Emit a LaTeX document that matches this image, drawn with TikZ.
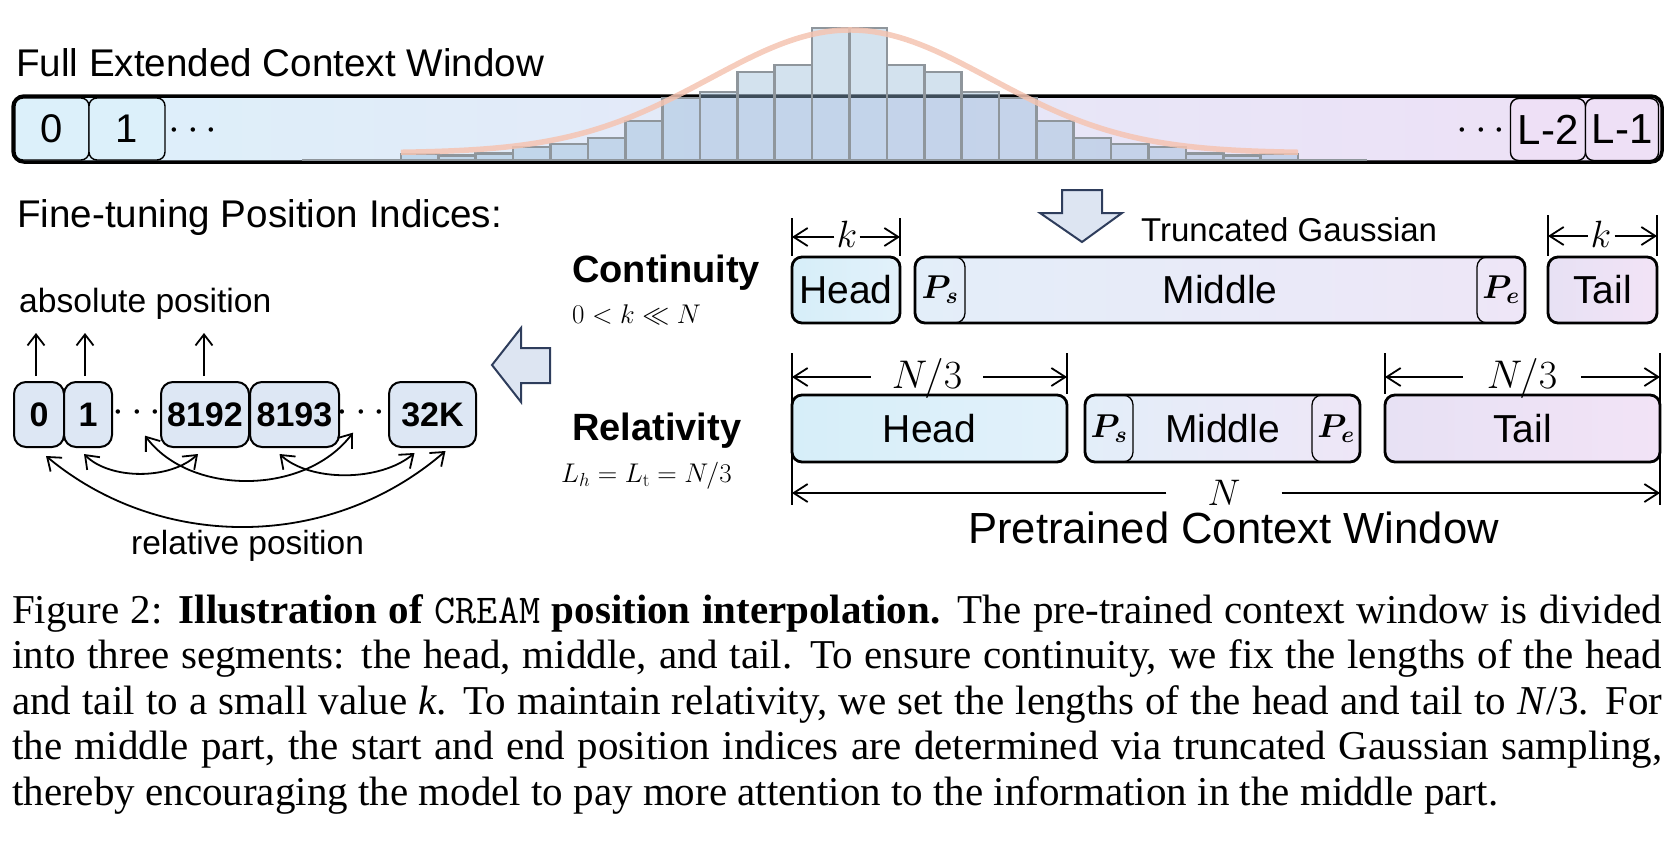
\RequirePackage{fix-cm}
\documentclass[tikz,border=0pt]{standalone}
\usepackage[no-math]{fontspec}
\setmainfont{Liberation Sans}
\newfontfamily\capfont{Liberation Serif}
\usepackage{bm}
\usetikzlibrary{arrows.meta,calc}
\newcommand\setfs[1]{\fontsize{#1}{#1}\selectfont}
\definecolor{barL}{HTML}{DCF0FA}
\definecolor{barM}{HTML}{E3E6F6}
\definecolor{barR}{HTML}{EEE0F6}
\definecolor{histfill}{RGB}{150,185,215}
\definecolor{histline}{HTML}{8F969C}
\definecolor{gcol}{RGB}{245,196,178}
\definecolor{iboxc}{HTML}{DDE7F4}
\definecolor{arrfill}{HTML}{DDE5F2}
\definecolor{arrline}{HTML}{2E3D5C}
\definecolor{headL}{HTML}{D6EEF9}
\definecolor{headR}{HTML}{E2F1FA}
\definecolor{midL}{HTML}{E3EEF9}
\definecolor{midR}{HTML}{EEE6F7}
\definecolor{tailL}{HTML}{E7E1F4}
\definecolor{tailR}{HTML}{F2E3F6}
\begin{document}
\begin{tikzpicture}[x=1pt,y=-1pt,
  lbl/.style={inner sep=0pt, anchor=base west},
  dots/.style={inner sep=0pt, anchor=base, font=\setfs{42}},
  fullbar/.style={draw, line width=3.5pt, rounded corners=11pt, inner sep=0pt,
    minimum width=1649pt, minimum height=66pt, left color=barL, middle color=barM, right color=barR},
  cellbox/.style={draw, line width=1.4pt, rounded corners=8pt, inner sep=0pt,
    minimum height=62pt, font=\setfs{40}},
  histbar/.style={fill=histfill, fill opacity=0.42, draw=histline, line width=2.6pt},
  gcurve/.style={draw=gcol, line width=5.5pt, draw opacity=0.85},
  ibox/.style={draw, line width=2pt, rounded corners=12pt, inner sep=0pt, fill=iboxc,
    minimum height=65pt, font=\bfseries\setfs{34}},
  uparr/.style={line width=1.8pt, -{Straight Barb[length=11pt,width=17pt]}},
  relarr/.style={line width=1.8pt, {Straight Barb[length=12pt,width=18pt]}-{Straight Barb[length=12pt,width=18pt]}},
  blockarr/.style={fill=arrfill, draw=arrline, line width=2pt, line join=miter},
  seg/.style={draw, line width=2.8pt, rounded corners=10pt, inner sep=0pt,
    minimum height=66pt, font=\setfs{39}},
  pbox/.style={draw, line width=1.3pt, rounded corners=10pt, inner sep=0pt,
    minimum height=66pt, font=\setfs{33}},
  tick/.style={line width=2.5pt},
  dimarr/.style={line width=1.8pt, -{Straight Barb[length=14pt,width=18pt]}},
  dimlbl/.style={inner ysep=0pt, anchor=base},
  captxt/.style={inner sep=0pt, anchor=base west, font=\capfont\setfs{41}}
]
\useasboundingbox (0,0) rectangle (1675,841);

% ---------- full extended context window ----------
\node[lbl, font=\setfs{38.6}] (ttl) at (16,76) {Full Extended Context Window};
\node[fullbar] (fullbar) at (837.5,129) {};
\draw[draw=histline, line width=2.6pt] (302,160) -- (1367,160);
\foreach \h [count=\i from 0] in {6,4.3,6.7,13,16,22,39,62,68,88,95,132,132,95,88,68,62,39,22,16,13,6.7,4.3,6}
  \draw[histbar] ({401+\i*37.375},160) rectangle ++(37.375,-\h);
\draw[gcurve] plot[domain=401:1298, samples=120, smooth]
  (\x, {153-123*exp(-0.5*((\x-850)/140)*((\x-850)/140))});
\node[cellbox, fill=barL, minimum width=74pt] (c0) at (52,129) {0};
\node[cellbox, fill=barL, minimum width=76pt] (c1) at (127,129) {1};
\node[dots] (d0) at (193,140.5) {$\cdots$};
\node[cellbox, fill=barR, minimum width=75pt, font=\setfs{42}] (cL2) at (1548,129.5) {L-2};
\node[cellbox, fill=barR, minimum width=73pt, font=\setfs{42}] (cL1) at (1622,129.5) {L-1};
\node[dots] (d1) at (1481,140.5) {$\cdots$};

% ---------- fine-tuning position indices ----------
\node[lbl, font=\setfs{38.6}] (ft) at (17,227) {Fine-tuning Position Indices:};
\node[lbl, font=\setfs{33.6}] (abs) at (19,312) {absolute position};
\node[ibox, minimum width=50pt] (b0) at (39,414.5) {0};
\node[ibox, minimum width=48pt] (b1) at (88,414.5) {1};
\node[dots] (dl1) at (137,422.5) {$\cdots$};
\node[ibox, minimum width=88pt] (b8192) at (205,414.5) {8192};
\node[ibox, minimum width=89pt] (b8193) at (294.5,414.5) {8193};
\node[dots] (dl2) at (361,422.5) {$\cdots$};
\node[ibox, minimum width=87pt] (b32k) at (432.5,414.5) {32K};
\coordinate (u0) at (36,333);
\coordinate (u1) at (85,333);
\coordinate (u2) at (204,333);
\draw[uparr] ($(b0.north)+(-3,-5)$) -- (u0);
\draw[uparr] ($(b1.north)+(-3,-5)$) -- (u1);
\draw[uparr] ($(b8192.north)+(-1,-5)$) -- (u2);
\draw[relarr] ($(b0.south)+(7,8)$) .. controls (160,551) and (330,551) .. ($(b32k.south)+(13,3)$);
\draw[relarr] ($(b1.south)+(-4,6)$) .. controls (110,480) and (170,480) .. ($(b8192.south)+(-7,6)$);
\draw[relarr] ($(dl1)+(8,22.5)$) .. controls (190,496) and (305,496) .. ($(dl2)+(-8,19.5)$);
\draw[relarr] ($(b8193.south)+(-15,6)$) .. controls (310,482) and (380,482) .. ($(b32k.south)+(-18,5)$);
\node[lbl, font=\setfs{33.5}] (rel) at (131,554) {relative position};

% ---------- block arrows ----------
\draw[blockarr] (492,365) -- (521,328) -- (521,348) -- (550,348) -- (550,383) -- (521,383) -- (521,402) -- cycle;
\draw[blockarr] (1062,190) -- (1102,190) -- (1102,213) -- (1122,213) -- (1082,242) -- (1040,213) -- (1062,213) -- cycle;
\node[lbl, font=\setfs{33}] (tg) at (1141,241) {Truncated Gaussian};

% ---------- continuity / relativity labels ----------
\node[lbl, font=\bfseries\setfs{38}] (cont) at (572,282) {Continuity};
\node[lbl, font=\setfs{27}] (contm) at (572,323) {$0<k\ll N$};
\node[lbl, font=\bfseries\setfs{38}] (relt) at (572,440) {Relativity};
\node[lbl, font=\setfs{27}] (relm) at (561,482) {$L_h=L_{\mathrm{t}}=N/3$};

% ---------- continuity row ----------
\node[seg, left color=headL, right color=headR, minimum width=108pt] (chead) at (846,290) {Head};
\node[seg, left color=midL, right color=midR, minimum width=610pt] (cmid) at (1220,290) {Middle};
\node[pbox, minimum width=50pt] (cps) at (940,290) {$\bm{P_s}$};
\node[pbox, minimum width=48pt] (cpe) at (1501,290) {$\bm{P_e}$};
\node[seg, left color=tailL, right color=tailR, minimum width=109pt] (ctail) at (1602.5,290) {Tail};

\coordinate (kt1) at (792,218);
\coordinate (kt2) at (900,218);
\coordinate (kt3) at (1548,215);
\coordinate (kt4) at (1657,215);
\draw[tick] (kt1) -- (kt1 |- chead.north);
\draw[tick] (kt2) -- (kt2 |- chead.north);
\draw[tick] (kt3) -- (kt3 |- ctail.north);
\draw[tick] (kt4) -- (kt4 |- ctail.north);
\coordinate (ka1) at (792,237);
\coordinate (ka2) at (900,237);
\coordinate (ka3) at (1548,236);
\coordinate (ka4) at (1657,236);
\node[dimlbl, inner xsep=2pt, font=\setfs{38}] (kc) at (847,247) {$k$};
\node[dimlbl, inner xsep=3pt, font=\setfs{38}] (kt) at (1601,247) {$k$};
\draw[dimarr] (kc.west |- ka1) -- (ka1);
\draw[dimarr] (kc.east |- ka2) -- (ka2);
\draw[dimarr] (kt.west |- ka3) -- (ka3);
\draw[dimarr] (kt.east |- ka4) -- (ka4);

% ---------- relativity row ----------
\node[seg, left color=headL, right color=headR, minimum width=275pt, minimum height=67pt] (rhead) at (929.5,428.5) {Head};
\node[seg, left color=midL, right color=midR, minimum width=275pt, minimum height=67pt] (rmid) at (1222.5,428.5) {Middle};
\node[pbox, minimum width=48pt, minimum height=67pt] (rps) at (1109,428.5) {$\bm{P_s}$};
\node[pbox, minimum width=48pt, minimum height=67pt] (rpe) at (1336,428.5) {$\bm{P_e}$};
\node[seg, left color=tailL, right color=tailR, minimum width=275pt, minimum height=67pt] (rtail) at (1522.5,428.5) {Tail};

\coordinate (rt1) at (792,353);
\coordinate (rt1b) at (792,505);
\coordinate (rt2) at (1067,353);
\coordinate (rt3) at (1385,353);
\coordinate (rt4) at (1660,353);
\coordinate (rt4b) at (1660,505);
\draw[tick] (rt1) -- (rt1b);
\draw[tick] (rt2) -- (rt2 |- rhead.north);
\draw[tick] (rt3) -- (rt3 |- rtail.north);
\draw[tick] (rt4) -- (rt4b);
\coordinate (ra1) at (792,377);
\coordinate (ra2) at (1067,377);
\coordinate (ra3) at (1385,377);
\coordinate (ra4) at (1660,377);
\node[dimlbl, inner xsep=21pt, font=\setfs{40}] (nh) at (927,388) {$N/3$};
\node[dimlbl, inner xsep=24pt, font=\setfs{40}] (ntl) at (1522,388) {$N/3$};
\draw[dimarr] (nh.west |- ra1) -- (ra1);
\draw[dimarr] (nh.east |- ra2) -- (ra2);
\draw[dimarr] (ntl.west |- ra3) -- (ra3);
\draw[dimarr] (ntl.east |- ra4) -- (ra4);
\coordinate (na1) at (792,493);
\coordinate (na2) at (1660,493);
\node[dimlbl, inner xsep=41pt, font=\setfs{37}] (nn) at (1224,505) {$N$};
\draw[dimarr] (nn.west |- na1) -- (na1);
\draw[dimarr] (nn.east |- na2) -- (na2);
\node[lbl, font=\setfs{43.6}] (pcw) at (968,543) {Pretrained Context Window};

% ---------- caption ----------
\node[captxt] (cap1) at (12,623) {\makebox[1650pt][s]{Figure 2: \textbf{Illustration of} {\ttfamily CREAM} \textbf{position interpolation.} The pre-trained context window is divided}};
\node[captxt] (cap2) at (12,668.5) {\makebox[1650pt][s]{into three segments: the head, middle, and tail. To ensure continuity, we fix the lengths of the head}};
\node[captxt] (cap3) at (12,714) {\makebox[1650pt][s]{and tail to a small value \textit{k}. To maintain relativity, we set the lengths of the head and tail to \textit{N}/3. For}};
\node[captxt] (cap4) at (12,759.5) {\makebox[1650pt][s]{the middle part, the start and end position indices are determined via truncated Gaussian sampling,}};
\node[captxt] (cap5) at (12,805) {thereby encouraging the model to pay more attention to the information in the middle part.};
\end{tikzpicture}
\end{document}
